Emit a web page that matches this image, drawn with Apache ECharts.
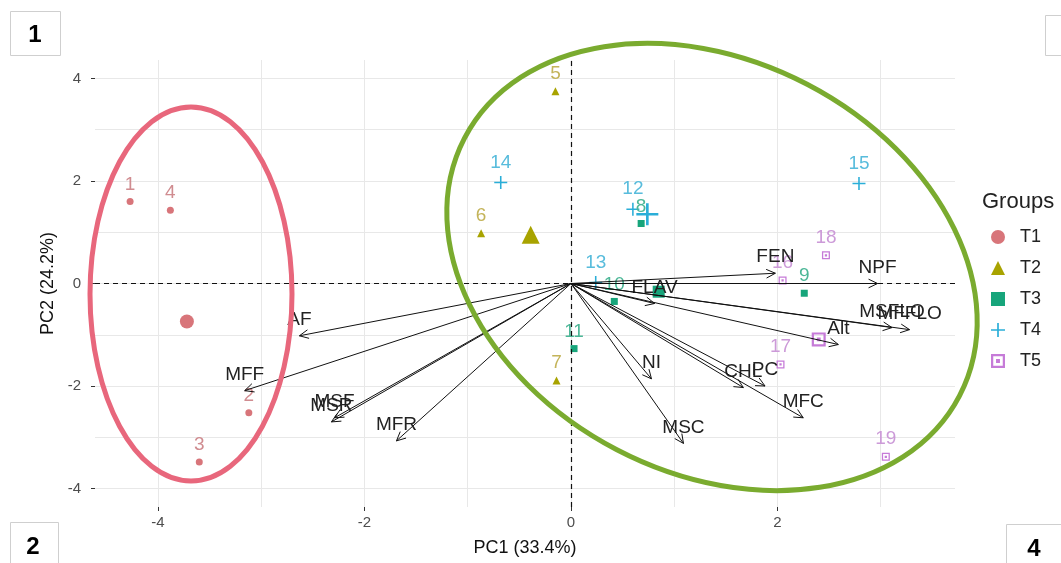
<!DOCTYPE html>
<html><head><meta charset="utf-8">
<script src="https://cdn.jsdelivr.net/npm/echarts@6/dist/echarts.min.js"></script>
<style>html,body{margin:0;padding:0;background:#fff}#c{width:1061px;height:563px}</style>
</head><body><div id="c"></div>
<script>
// ---- data ----
const groups = ['T1','T2','T3','T4','T5'];
const t1Points = [[-4.27,1.60,'1'],[-3.12,-2.52,'2'],[-3.60,-3.48,'3'],[-3.88,1.43,'4']];
const t2Points = [[-0.15,3.75,'5'],[-0.87,0.98,'6'],[-0.14,-1.89,'7']];
const t3Points = [[0.68,1.17,'8'],[2.26,-0.19,'9'],[0.42,-0.35,'10'],[0.03,-1.27,'11']];
const t4Points = [[0.60,1.45,'12'],[0.24,0.02,'13'],[-0.68,1.97,'14'],[2.79,1.95,'15']];
const t5Points = [[2.05,0.06,'16'],[2.03,-1.58,'17'],[2.47,0.55,'18'],[3.05,-3.38,'19']];
const centroids = [[-3.72,-0.74],[-0.39,0.95],[0.85,-0.16],[0.74,1.35],[2.40,-1.09]];
const varNames = ['AF','MFF','MSF','MSR','MFR','NI','MSC','FLAV','CHL','PC','MFC','Alt','MSFLO','MFFLO','NPF','FEN'];
const varPC1 = [-2.63,-3.16,-2.29,-2.32,-1.69,0.78,1.09,0.81,1.67,1.88,2.25,2.59,3.11,3.28,2.97,1.98];
const varPC2 = [-1.02,-2.09,-2.62,-2.70,-3.07,-1.86,-3.12,-0.39,-2.03,-2.00,-2.62,-1.19,-0.86,-0.90,0.00,0.20];
const xTicks = [-4,-2,0,2];
const yTicks = [-4,-2,0,2,4];

// ---- styles ----
const colors = ['#d8757a','#a8a300','#17a57b','#2aaed8','#c67bd8'];
const labelColors = ['#d08c90','#c4b45a','#4cb797','#58bcdc','#cc9ad8'];
const PLUS = 'path://M0,4.4H10V5.6H0Z M4.4,0H5.6V10H4.4Z';
const SQX = 'path://M0,0H10V10H0Z M1.6,1.6V8.4H8.4V1.6Z M3.6,3.6H6.4V6.4H3.6Z';
const symbols = ['circle','triangle','rect',PLUS,SQX];
const smallSizes = [7,8,7,13,8];
const bigSizes = [14,18,12,22,14];
const FONT = '"Liberation Sans", Arial, sans-serif';
const pointSets = [t1Points,t2Points,t3Points,t4Points,t5Points];

const series = [];
pointSets.forEach((pts, g) => {
  series.push({
    name: groups[g], type: 'scatter', z: 3, xAxisIndex: 0, yAxisIndex: 0,
    symbol: symbols[g], symbolSize: smallSizes[g], symbolKeepAspect: true,
    itemStyle: {color: colors[g], opacity: 1},
    data: pts.map(p => ({value: [p[0], p[1]], name: p[2]})),
    label: {show: true, position: 'top', distance: 4, formatter: '{b}',
      color: labelColors[g], fontSize: 19, fontFamily: FONT},
    markLine: g === 0 ? {
      silent: true, symbol: ['none','none'], label: {show: false}, animation: false,
      lineStyle: {color: '#111', type: [5,4], width: 1.2},
      data: [{xAxis: 0}, {yAxis: 0}]
    } : undefined
  });
  series.push({
    name: groups[g], type: 'scatter', z: 3, xAxisIndex: 0, yAxisIndex: 0,
    symbol: symbols[g], symbolSize: bigSizes[g], symbolKeepAspect: true,
    itemStyle: {color: colors[g], opacity: 1},
    data: [centroids[g]]
  });
});

series.push({
  type: 'custom', coordinateSystem: 'cartesian2d', xAxisIndex: 0, yAxisIndex: 0, z: 5, silent: true,
  data: varNames.map((n, i) => [varPC1[i], varPC2[i]]),
  encode: {x: 0, y: 1},
  renderItem: function (params, api) {
    const o = api.coord([0, 0]);
    const p = api.coord([api.value(0), api.value(1)]);
    const ang = Math.atan2(p[1] - o[1], p[0] - o[0]);
    const L = 10, a = Math.PI / 7;
    const h1 = [p[0] - L * Math.cos(ang - a), p[1] - L * Math.sin(ang - a)];
    const h2 = [p[0] - L * Math.cos(ang + a), p[1] - L * Math.sin(ang + a)];
    return {type: 'group', children: [
      {type: 'line', shape: {x1: o[0], y1: o[1], x2: p[0], y2: p[1]}, style: {stroke: '#111', lineWidth: 1}},
      {type: 'polyline', shape: {points: [h1, p, h2]}, style: {stroke: '#111', lineWidth: 1, fill: 'none'}},
      {type: 'text', x: p[0], y: p[1] - 16, style: {text: varNames[params.dataIndex], fill: '#222',
        font: '19px ' + FONT, align: 'center', verticalAlign: 'middle'}}
    ]};
  }
});

const gridLine = {show: true, showMinLine: false, showMaxLine: false, lineStyle: {color: '#e8e8e8', width: 1}};
const hidden = {axisLine: {show: false}, axisTick: {show: false}, axisLabel: {show: false}};

const chart = echarts.init(document.getElementById('c'), null, {renderer: 'canvas'});
chart.setOption({
  animation: false,
  backgroundColor: '#fff',
  grid: {left: 95, right: 106, top: 60, bottom: 56, containLabel: false, outerBoundsMode: 'none'},
  xAxis: [{
    type: 'value', min: -4.61, max: 3.72, position: 'bottom',
    axisLine: {show: false, onZero: false},
    axisTick: {show: true, customValues: xTicks, length: 4, lineStyle: {color: '#333'}},
    axisLabel: {customValues: xTicks, color: '#4d4d4d', fontSize: 15, margin: 8, fontFamily: FONT},
    splitLine: {show: false},
    name: 'PC1 (33.4%)', nameLocation: 'middle', nameGap: 32,
    nameTextStyle: {color: '#111', fontSize: 18, fontFamily: FONT}
  }, Object.assign({
    type: 'value', min: -4.61, max: 3.72, splitNumber: 8, position: 'top',
    splitLine: gridLine
  }, hidden)],
  yAxis: [{
    type: 'value', min: -4.36, max: 4.36, position: 'left',
    axisLine: {show: false, onZero: false},
    axisTick: {show: true, customValues: yTicks, length: 4, lineStyle: {color: '#333'}},
    axisLabel: {customValues: yTicks, color: '#4d4d4d', fontSize: 15, margin: 14, fontFamily: FONT},
    splitLine: {show: false},
    name: 'PC2 (24.2%)', nameLocation: 'middle', nameGap: 35,
    nameTextStyle: {color: '#111', fontSize: 18, fontFamily: FONT}
  }, Object.assign({
    type: 'value', min: -4.36, max: 4.36, splitNumber: 9, position: 'right',
    splitLine: gridLine
  }, hidden)],
  legend: {
    orient: 'vertical', left: 986, top: 223,
    itemWidth: 14, itemHeight: 14, itemGap: 13,
    selectedMode: false,
    textStyle: {color: '#222', fontSize: 18, lineHeight: 18, fontFamily: FONT, padding: [0,0,0,10]},
    data: groups.map((g, i) => ({name: g, icon: symbols[i]}))
  },
  graphic: [
    {type: 'text', left: 982, top: 191, z: 50, style: {text: 'Groups', fill: '#222', font: '22px ' + FONT}},
    {type: 'ellipse', z: 100, shape: {cx: 191, cy: 294, rx: 101, ry: 187},
      style: {fill: 'none', stroke: '#e8677c', lineWidth: 5}},
    {type: 'ellipse', z: 100, x: 712, y: 267, rotation: -27.5 * Math.PI / 180,
      shape: {cx: 0, cy: 0, rx: 279, ry: 206},
      style: {fill: 'none', stroke: '#7aab2f', lineWidth: 5}},
    {type: 'rect', z: 100, shape: {x: 10.5, y: 11.5, width: 50, height: 44}, style: {fill: '#fff', stroke: '#cfcfcf', lineWidth: 1}},
    {type: 'text', z: 101, x: 35, y: 35, style: {text: '1', font: 'bold 24px ' + FONT, fill: '#000', align: 'center', verticalAlign: 'middle'}},
    {type: 'rect', z: 100, shape: {x: 10.5, y: 522.5, width: 48, height: 50}, style: {fill: '#fff', stroke: '#cfcfcf', lineWidth: 1}},
    {type: 'text', z: 101, x: 33, y: 547, style: {text: '2', font: 'bold 24px ' + FONT, fill: '#000', align: 'center', verticalAlign: 'middle'}},
    {type: 'rect', z: 100, shape: {x: 1006.5, y: 524.5, width: 60, height: 50}, style: {fill: '#fff', stroke: '#cfcfcf', lineWidth: 1}},
    {type: 'text', z: 101, x: 1034, y: 549, style: {text: '4', font: 'bold 24px ' + FONT, fill: '#000', align: 'center', verticalAlign: 'middle'}},
    {type: 'rect', z: 100, shape: {x: 1045.5, y: 15.5, width: 40, height: 40}, style: {fill: '#fff', stroke: '#cfcfcf', lineWidth: 1}}
  ],
  series: series
});
</script></body></html>
